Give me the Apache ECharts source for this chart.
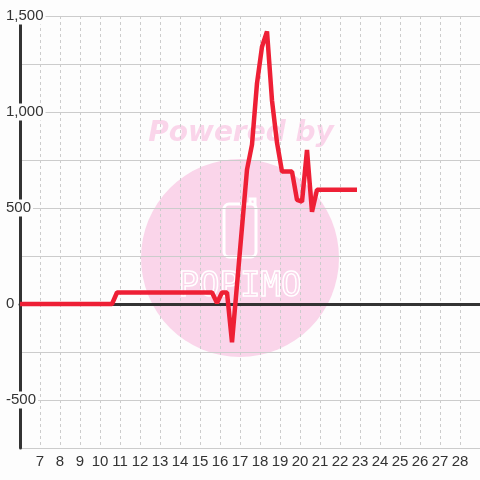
<!DOCTYPE html>
<html>
<head>
<meta charset="utf-8">
<script src="https://cdn.jsdelivr.net/npm/echarts@6/dist/echarts.min.js"></script>
<style>
  html, body { margin: 0; padding: 0; background: #fdfdfd; }
  #chart { width: 480px; height: 480px; }
</style>
</head>
<body>
<div id="chart"></div>
<script>
// trace vertices: day position and value
const xValues = [6, 10.6, 10.85, 15.6, 15.85, 16.1, 16.35, 16.6, 16.85, 17.1, 17.35, 17.6, 17.85, 18.1, 18.35, 18.6, 18.85, 19.1, 19.35, 19.6, 19.85, 20.1, 20.35, 20.6, 20.85, 22.85];
const yValues = [0, 0, 60, 60, 5, 60, 60, -200, 100, 400, 700, 830, 1150, 1340, 1420, 1060, 840, 690, 690, 690, 542, 533, 802, 480, 595, 595];

const xRange = [6, 29];
const yRange = [-750, 1500];
const yLabelValues = [-500, 0, 500, 1000, 1500];

const bg = '#fdfdfd';
const pink = '#fad5ea';

let chart = echarts.init(document.getElementById('chart'));

let points = [];
for (let i = 0; i < xValues.length; i++) {
    points.push([xValues[i], yValues[i]]);
}

chart.setOption({
    backgroundColor: bg,
    animation: false,
    textStyle: { fontFamily: 'Liberation Sans' },
    grid: { left: 20, right: 0, top: 16, bottom: 32 },
    // watermark
    graphic: [
        { type: 'circle', z: -1, silent: true, shape: { cx: 240, cy: 258, r: 99 }, style: { fill: pink } },
        { type: 'text', z: -1, silent: true, x: 241, y: 134,
          style: { text: 'Powered by', font: 'italic bold 28px "DejaVu Sans"', fill: pink, align: 'center', verticalAlign: 'middle' } },
        { type: 'rect', z: -1, silent: true, shape: { x: 224, y: 204, width: 32, height: 53, r: 5 },
          style: { fill: 'none', stroke: '#fff', lineWidth: 3 } },
        { type: 'polyline', z: -1, silent: true, shape: { points: [[250, 205], [250, 199], [255, 199], [255, 206]] },
          style: { fill: 'none', stroke: '#fff', lineWidth: 3 } },
        { type: 'text', z: -1, silent: true, x: 240, y: 287,
          style: { text: 'POPIMO', font: '34px "DejaVu Sans Mono"', fill: 'none', stroke: '#fff', lineWidth: 1.5, align: 'center', verticalAlign: 'middle' } }
    ],
    xAxis: [
        {
            type: 'value',
            min: xRange[0],
            max: xRange[1],
            interval: 1,
            axisLine: { show: false, onZero: false },
            axisTick: { show: false },
            axisLabel: { fontSize: 15, color: '#333', margin: 6, showMinLabel: false, showMaxLabel: false },
            splitLine: { show: true, lineStyle: { color: '#ccc', type: [3, 3] } }
        },
        {
            // zero line
            type: 'value',
            min: xRange[0],
            max: xRange[1],
            axisLine: { show: true, onZero: true, lineStyle: { color: '#333', width: 3 } },
            axisTick: { show: false },
            axisLabel: { show: false },
            splitLine: { show: false }
        }
    ],
    yAxis: {
        type: 'value',
        min: yRange[0],
        max: yRange[1],
        interval: 250,
        axisLine: { show: true, onZero: false, lineStyle: { color: '#333', width: 3 } },
        axisTick: { show: false },
        axisLabel: {
            align: 'left',
            margin: 16,
            formatter: function (v) {
                if (yLabelValues.indexOf(v) < 0) return '';
                return '{b|' + v.toLocaleString('en-US') + '}';
            },
            rich: {
                b: { fontSize: 15, color: '#333', backgroundColor: bg, padding: [1, 2] }
            }
        },
        splitLine: { lineStyle: { color: '#ccc' } }
    },
    series: [{
        type: 'line',
        data: points,
        symbol: 'none',
        lineStyle: { color: '#ee1f35', width: 4.5 }
    }]
});
</script>
</body>
</html>
